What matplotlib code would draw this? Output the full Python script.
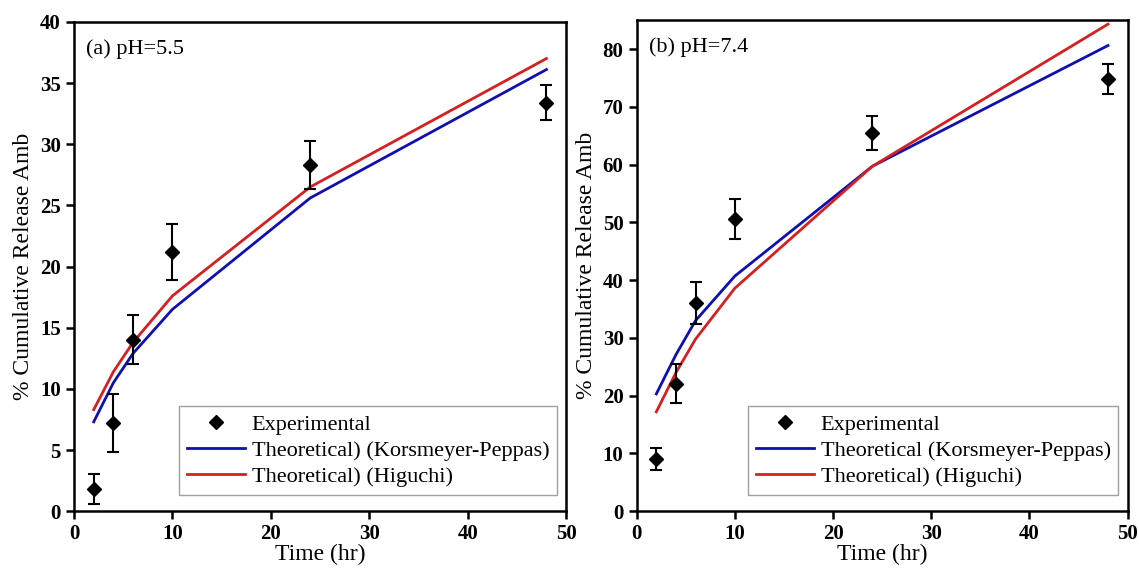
import numpy as np
import matplotlib
matplotlib.use("Agg")
import matplotlib.pyplot as plt

plt.rcParams['font.family'] = ['Liberation Serif', 'DejaVu Serif']

# time points (hr)
time = [2, 4, 6, 10, 24, 48]

# pH 5.5
exp_55 = [1.8, 7.2, 14.0, 21.2, 28.3, 33.4]
err_55 = [1.2, 2.4, 2.0, 2.3, 2.0, 1.4]
kp_55 = [7.3, 10.5, 12.9, 16.5, 25.6, 36.1]
hig_55 = [8.3, 11.4, 13.8, 17.6, 26.5, 37.0]

# pH 7.4
exp_74 = [9.0, 22.1, 36.0, 50.6, 65.5, 74.8]
err_74 = [1.9, 3.4, 3.6, 3.5, 2.9, 2.6]
kp_74 = [20.3, 27.1, 33.0, 40.7, 59.7, 80.6]
hig_74 = [17.2, 24.0, 29.8, 38.6, 59.7, 84.3]

fig = plt.figure(figsize=(11.39, 5.75), dpi=100)
ax1 = fig.add_axes([0.065, 0.111, 0.432, 0.851])
ax2 = fig.add_axes([0.559, 0.111, 0.431, 0.854])

panels = [
    (ax1, exp_55, err_55, kp_55, hig_55, "(a) pH=5.5", 40, np.arange(0, 41, 5),
     "Theoretical) (Korsmeyer-Peppas)"),
    (ax2, exp_74, err_74, kp_74, hig_74, "(b) pH=7.4", 85, np.arange(0, 81, 10),
     "Theoretical (Korsmeyer-Peppas)"),
]

for ax, exp, err, kp, hig, label, ytop, yticks, kp_label in panels:
    ax.errorbar(time, exp, yerr=err, fmt='none', ecolor='black',
                capsize=4, elinewidth=1.5, capthick=1.5, zorder=3)
    ax.plot(time, exp, 'D', color='black', ms=7, ls='none', label='Experimental', zorder=4)
    ax.plot(time, kp, color='#1010b0', lw=2, label=kp_label)
    ax.plot(time, hig, color='#d42020', lw=2, label='Theoretical) (Higuchi)')
    ax.set_xlim(0, 50)
    ax.set_ylim(0, ytop)
    ax.set_xticks(np.arange(0, 51, 10))
    ax.set_yticks(yticks)
    ax.tick_params(direction='out', length=6, width=1.8, labelsize=15)
    for t in ax.get_xticklabels() + ax.get_yticklabels():
        t.set_fontweight('bold')
    for s in ax.spines.values():
        s.set_linewidth(1.8)
    ax.set_xlabel('Time (hr)', fontsize=17, labelpad=0)
    ax.set_ylabel('% Cumulative Release Amb', fontsize=17, labelpad=4)
    ax.text(0.025, 0.965, label, transform=ax.transAxes, fontsize=16, va='top', ha='left')
    leg = ax.legend(loc='lower right', fontsize=16, fancybox=False, frameon=True,
                    handlelength=2.6, handletextpad=0.3, borderpad=0.35, labelspacing=0.25,
                    borderaxespad=0.3, bbox_to_anchor=(0.995, 0.02))
    leg.get_frame().set_edgecolor('#888888')
    leg.get_frame().set_linewidth(1.0)

fig.savefig('out.png', dpi=100)
